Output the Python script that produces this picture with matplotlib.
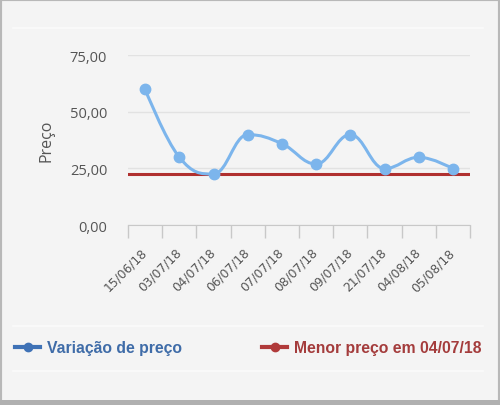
import matplotlib.pyplot as plt
import numpy as np
from matplotlib.path import Path
from matplotlib.patches import PathPatch, Rectangle
from matplotlib.lines import Line2D

# dados
datas = ['15/06/18', '03/07/18', '04/07/18', '06/07/18', '07/07/18',
         '08/07/18', '09/07/18', '21/07/18', '04/08/18', '05/08/18']
precos = [59.9, 29.9, 22.5, 39.9, 35.9, 26.9, 39.9, 24.9, 29.9, 24.9]
menor_preco = 22.5
menor_data = '04/07/18'
yticks = [0, 25, 50, 75]

azul = '#7cb5ec'
vermelho = '#b0302f'
fundo = '#f4f4f4'


def spline_path(xs, ys, smoothing=1.5):
    # curva suave estilo highcharts (beziers entre os pontos)
    n = len(xs)
    left = [(x, y) for x, y in zip(xs, ys)]
    right = [(x, y) for x, y in zip(xs, ys)]
    d = smoothing + 1
    for i in range(1, n - 1):
        x, y = xs[i], ys[i]
        lx, ly = xs[i - 1], ys[i - 1]
        nx, ny = xs[i + 1], ys[i + 1]
        lcx, lcy = (smoothing * x + lx) / d, (smoothing * y + ly) / d
        rcx, rcy = (smoothing * x + nx) / d, (smoothing * y + ny) / d
        if rcx != lcx:
            corr = (rcy - lcy) * (rcx - x) / (rcx - lcx) + y - rcy
            lcy += corr
            rcy += corr
        if lcy > max(ly, y):
            lcy = max(ly, y); rcy = 2 * y - lcy
        elif lcy < min(ly, y):
            lcy = min(ly, y); rcy = 2 * y - lcy
        if rcy > max(y, ny):
            rcy = max(y, ny); lcy = 2 * y - rcy
        elif rcy < min(y, ny):
            rcy = min(y, ny); lcy = 2 * y - rcy
        left[i] = (lcx, lcy)
        right[i] = (rcx, rcy)
    verts = [(xs[0], ys[0])]
    codes = [Path.MOVETO]
    for i in range(1, n):
        verts += [right[i - 1], left[i], (xs[i], ys[i])]
        codes += [Path.CURVE4] * 3
    return Path(verts, codes)


fig = plt.figure(figsize=(5, 4.06), dpi=100, facecolor=fundo)
# moldura cinza
fig.patches.append(Rectangle((0, 0), 1, 1, transform=fig.transFigure,
                             fill=False, edgecolor='#b8b8b8', linewidth=3))
fig.patches.append(Rectangle((0, 0), 1, 5 / 406, transform=fig.transFigure,
                             color='#b0b0b0', linewidth=0))
ax = fig.add_axes([0.256, 0.4433, 0.684, 0.4187])
ax.set_facecolor(fundo)

x = np.arange(len(datas))
ax.axhline(menor_preco, color=vermelho, linewidth=2.2, zorder=3)
ax.add_patch(PathPatch(spline_path(x, precos), facecolor='none',
                       edgecolor=azul, linewidth=2.2, zorder=4))
ax.plot(x, precos, 'o', color=azul, markersize=7.5, zorder=5)

ax.set_xlim(-0.5, len(datas) - 0.5)
ax.set_ylim(0, 75)
ax.set_yticks(yticks)
ax.set_yticklabels(['%d,00' % v for v in yticks], fontfamily='Open Sans',
                   fontsize=10.5, color='#555555')
ax.grid(axis='y', color='#e2e2e2', linewidth=1)
ax.set_axisbelow(True)
ax.tick_params(axis='y', length=0, pad=15)

ax.set_xticks(x)
ax.set_xticklabels(datas, rotation=45, ha='right', va='center',
                   rotation_mode='anchor', fontsize=8.8, color='#555555')
ax.set_xticks(np.arange(-0.5, len(datas)), minor=True)
ax.tick_params(axis='x', which='major', length=0, pad=18)
ax.tick_params(axis='x', which='minor', length=9, color='#c8c8c8', width=1)

for s in ['top', 'right', 'left']:
    ax.spines[s].set_visible(False)
ax.spines['bottom'].set_color('#c8c8c8')

ax.set_ylabel('Preço', fontfamily='Open Sans', fontsize=11.5, color='#555555')
ax.yaxis.set_label_coords(-0.215, 0.5)

# linhas claras do layout
for yy in [1 - 29 / 406, 1 - 327 / 406, 1 - 372 / 406]:
    fig.add_artist(Line2D([0.026, 0.966], [yy, yy], color='#fbfbfb', linewidth=1.2))

handles = [Line2D([], [], color='#3f72b6', marker='o', markersize=6, linewidth=3),
           Line2D([], [], color='#b03a3a', marker='o', markersize=6, linewidth=3)]
labels = ['Variação de preço', 'Menor preço em ' + menor_data]
leg = fig.legend(handles, labels, loc='center left', bbox_to_anchor=(15 / 500, 1 - 349 / 406),
                 ncol=2, frameon=False, handlelength=1.6, handletextpad=0.45,
                 columnspacing=5.1, borderpad=0, borderaxespad=0,
                 prop={'family': 'Liberation Sans', 'weight': 'bold', 'size': 11.3},
                 labelcolor=['#3f6ca8', '#a43c3c'])

fig.savefig('out.png', dpi=100, facecolor=fundo)
